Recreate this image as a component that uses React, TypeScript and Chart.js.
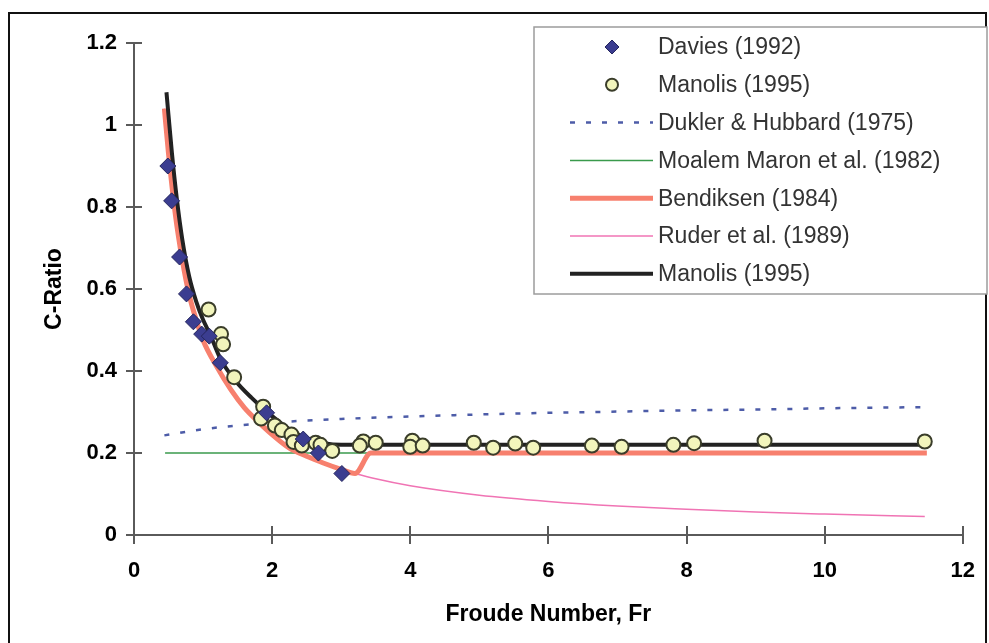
import React, { useEffect, useRef } from 'react';
import { Chart, registerables } from 'chart.js';

Chart.register(...registerables);

// ---- data ----
const daviesFr = [0.49, 0.545, 0.66, 0.76, 0.86, 0.98, 1.09, 1.25, 1.92, 2.45, 2.67, 3.01];
const daviesC = [0.9, 0.815, 0.678, 0.588, 0.52, 0.49, 0.485, 0.42, 0.298, 0.234, 0.2, 0.15];

const manolisFr = [1.08, 1.26, 1.29, 1.45, 1.87, 1.84, 2.04, 2.14, 2.28, 2.31, 2.43, 2.63, 2.7, 2.87, 3.32, 3.27, 3.5, 4.03, 4.0, 4.18, 4.92, 5.2, 5.52, 5.78, 6.63, 7.06, 7.81, 8.11, 9.13, 11.45];
const manolisC = [0.55, 0.49, 0.465, 0.385, 0.313, 0.284, 0.267, 0.256, 0.245, 0.227, 0.218, 0.225, 0.22, 0.205, 0.228, 0.218, 0.225, 0.23, 0.215, 0.218, 0.225, 0.213, 0.223, 0.213, 0.218, 0.215, 0.22, 0.224, 0.23, 0.228];

const duklerFr = [0.44, 1, 2, 3, 4, 5, 6, 7, 8, 9, 10, 11.45];
const duklerC = [0.243, 0.258, 0.274, 0.283, 0.289, 0.294, 0.298, 0.301, 0.304, 0.306, 0.309, 0.312];

const moalemFr = [0.45, 11.45];
const moalemC = [0.2, 0.2];

const bendiksenFr = [0.44, 0.5, 0.6, 0.7, 0.8, 0.9, 1.0, 1.2, 1.4, 1.6, 1.8, 2.0, 2.25, 2.5, 2.75, 3.0, 3.2, 3.43, 11.48];
const bendiksenC = [1.04, 0.93, 0.78, 0.67, 0.585, 0.525, 0.475, 0.41, 0.355, 0.31, 0.276, 0.245, 0.212, 0.192, 0.175, 0.16, 0.15, 0.2, 0.2];

const ruderFr = [0.44, 0.5, 0.6, 0.7, 0.8, 0.9, 1.0, 1.2, 1.4, 1.6, 1.8, 2.0, 2.25, 2.5, 2.75, 3.0, 3.2, 3.5, 4, 5, 6, 7, 8, 9, 10, 11.45];
const ruderC = [1.04, 0.93, 0.78, 0.67, 0.585, 0.525, 0.475, 0.41, 0.355, 0.31, 0.276, 0.245, 0.212, 0.192, 0.175, 0.16, 0.15, 0.137, 0.12, 0.097, 0.082, 0.071, 0.063, 0.056, 0.051, 0.045];

const manolisFitFr = [0.47, 0.55, 0.62, 0.7, 0.8, 0.9, 1.0, 1.1, 1.25, 1.45, 1.7, 2.0, 2.25, 2.5, 2.75, 3.0, 11.45];
const manolisFitC = [1.08, 0.93, 0.82, 0.72, 0.63, 0.57, 0.525, 0.49, 0.43, 0.38, 0.335, 0.29, 0.258, 0.235, 0.224, 0.22, 0.22];

const legendLabels = [
  'Davies (1992)',
  'Manolis (1995)',
  'Dukler & Hubbard (1975)',
  'Moalem Maron et al. (1982)',
  'Bendiksen (1984)',
  'Ruder et al. (1989)',
  'Manolis (1995)',
];

const xTitle = 'Froude Number, Fr';
const yTitle = 'C-Ratio';

const FONT = '"Liberation Sans", Arial, Helvetica, sans-serif';

const pts = (xs: number[], ys: number[]) => xs.map((x, i) => ({ x, y: ys[i] }));

const innerTicks = {
  id: 'innerTicks',
  afterDatasetsDraw(chart: any) {
    const { ctx, scales } = chart;
    const xs = scales.x;
    const ys = scales.y;
    ctx.save();
    ctx.strokeStyle = '#5a5a5a';
    ctx.lineWidth = 2;
    ctx.beginPath();
    xs.ticks.forEach((t: any) => {
      const px = Math.round(xs.getPixelForValue(t.value));
      ctx.moveTo(px, ys.bottom);
      ctx.lineTo(px, ys.bottom - 9);
    });
    ys.ticks.forEach((t: any) => {
      const py = Math.round(ys.getPixelForValue(t.value));
      ctx.moveTo(xs.left, py);
      ctx.lineTo(xs.left + 8, py);
    });
    ctx.stroke();
    ctx.restore();
  },
};

const boxLegend = {
  id: 'boxLegend',
  afterDraw(chart: any) {
    const ctx = chart.ctx;
    const x0 = 534, y0 = 27, x1 = 987, y1 = 294;
    ctx.save();
    ctx.fillStyle = '#ffffff';
    ctx.fillRect(x0, y0, x1 - x0, y1 - y0);
    ctx.strokeStyle = '#9c9c9c';
    ctx.lineWidth = 1.5;
    ctx.strokeRect(x0, y0, x1 - x0, y1 - y0);
    const ds = chart.data.datasets;
    const mx = 612;
    const lx0 = 570, lx1 = 653;
    legendLabels.forEach((label, i) => {
      const d = ds[i];
      const cy = 47 + i * 37.8;
      if (i === 0) {
        ctx.beginPath();
        ctx.moveTo(mx, cy - 7);
        ctx.lineTo(mx + 7, cy);
        ctx.lineTo(mx, cy + 7);
        ctx.lineTo(mx - 7, cy);
        ctx.closePath();
        ctx.fillStyle = d.backgroundColor;
        ctx.fill();
        ctx.strokeStyle = d.borderColor;
        ctx.lineWidth = 1;
        ctx.stroke();
      } else if (i === 1) {
        ctx.beginPath();
        ctx.arc(mx, cy, 6, 0, Math.PI * 2);
        ctx.fillStyle = d.backgroundColor;
        ctx.fill();
        ctx.strokeStyle = d.borderColor;
        ctx.lineWidth = 2;
        ctx.stroke();
      } else {
        ctx.beginPath();
        ctx.setLineDash(d.borderDash || []);
        ctx.strokeStyle = d.borderColor;
        ctx.lineWidth = d.borderWidth;
        ctx.moveTo(lx0, cy);
        ctx.lineTo(lx1, cy);
        ctx.stroke();
        ctx.setLineDash([]);
      }
      ctx.fillStyle = '#333333';
      ctx.font = `23px ${FONT}`;
      ctx.textAlign = 'left';
      ctx.textBaseline = 'middle';
      ctx.fillText(label, 658, cy + 1);
    });
    ctx.restore();
  },
};

export default function App() {
  const ref = useRef<HTMLCanvasElement | null>(null);

  useEffect(() => {
    if (!ref.current) return;
    const lineBase = { showLine: true, pointRadius: 0, pointHoverRadius: 0, fill: false, cubicInterpolationMode: 'monotone' as const };
    const chart = new Chart(ref.current, {
      type: 'scatter',
      data: {
        datasets: [
          {
            label: legendLabels[0],
            data: pts(daviesFr, daviesC),
            pointStyle: 'rectRot',
            pointRadius: 8,
            backgroundColor: '#3b3d90',
            borderColor: '#25265e',
            borderWidth: 1,
            showLine: false,
            order: 0,
          },
          {
            label: legendLabels[1],
            data: pts(manolisFr, manolisC),
            pointStyle: 'circle',
            pointRadius: 7,
            backgroundColor: '#f2f5bc',
            borderColor: '#3a3d2a',
            borderWidth: 2,
            showLine: false,
            order: 1,
          },
          {
            label: legendLabels[2],
            data: pts(duklerFr, duklerC),
            ...lineBase,
            borderColor: '#4d5ca8',
            borderWidth: 2.5,
            borderDash: [5, 11],
            order: 6,
          },
          {
            label: legendLabels[3],
            data: pts(moalemFr, moalemC),
            ...lineBase,
            borderColor: '#3a9a4c',
            borderWidth: 1.5,
            order: 5,
          },
          {
            label: legendLabels[4],
            data: pts(bendiksenFr, bendiksenC),
            ...lineBase,
            borderColor: '#f7806e',
            borderWidth: 5,
            order: 3,
          },
          {
            label: legendLabels[5],
            data: pts(ruderFr, ruderC),
            ...lineBase,
            borderColor: '#f074b4',
            borderWidth: 1.5,
            order: 4,
          },
          {
            label: legendLabels[6],
            data: pts(manolisFitFr, manolisFitC),
            ...lineBase,
            borderColor: '#222222',
            borderWidth: 4,
            order: 2,
          },
        ] as any,
      },
      options: {
        animation: false,
        responsive: false,
        maintainAspectRatio: false,
        layout: { padding: { top: 43, right: 17, left: 0, bottom: 0 } },
        plugins: {
          legend: { display: false },
          tooltip: { enabled: false },
        },
        scales: {
          x: {
            type: 'linear',
            min: 0,
            max: 12,
            afterFit: (s: any) => { s.height = 108; },
            ticks: { stepSize: 2, color: '#000', padding: 14, font: { family: FONT, size: 22, weight: 'bold' } },
            grid: { drawOnChartArea: false, drawTicks: true, tickLength: 9, color: '#5a5a5a', lineWidth: 2 },
            border: { display: true, color: '#5a5a5a', width: 2 },
            title: { display: true, text: xTitle, color: '#000', font: { family: FONT, size: 23, weight: 'bold' }, padding: { top: 0, bottom: 15 } },
          },
          y: {
            type: 'linear',
            min: 0,
            max: 1.2,
            afterFit: (s: any) => { s.width = 134; },
            ticks: {
              stepSize: 0.2,
              color: '#000',
              padding: 9,
              font: { family: FONT, size: 22, weight: 'bold' },
              callback: (v: any) => String(Math.round(Number(v) * 10) / 10),
            },
            grid: { drawOnChartArea: false, drawTicks: true, tickLength: 8, color: '#5a5a5a', lineWidth: 2 },
            border: { display: true, color: '#5a5a5a', width: 2 },
            title: { display: true, text: yTitle, color: '#000', font: { family: FONT, size: 23, weight: 'bold' }, padding: { top: 41, bottom: 0 } },
          },
        },
      } as any,
      plugins: [innerTicks, boxLegend],
    });
    return () => chart.destroy();
  }, []);

  return (
    <div style={{ position: 'absolute', left: 0, top: 0, width: 989, height: 643, overflow: 'hidden', background: '#fff' }}>
      <div style={{ position: 'absolute', left: 8, top: 12, width: 979, height: 700, border: '2px solid #111', boxSizing: 'border-box' }} />
      <canvas ref={ref} width={989} height={643} style={{ position: 'absolute', left: 0, top: 0, width: 989, height: 643 }} />
    </div>
  );
}
